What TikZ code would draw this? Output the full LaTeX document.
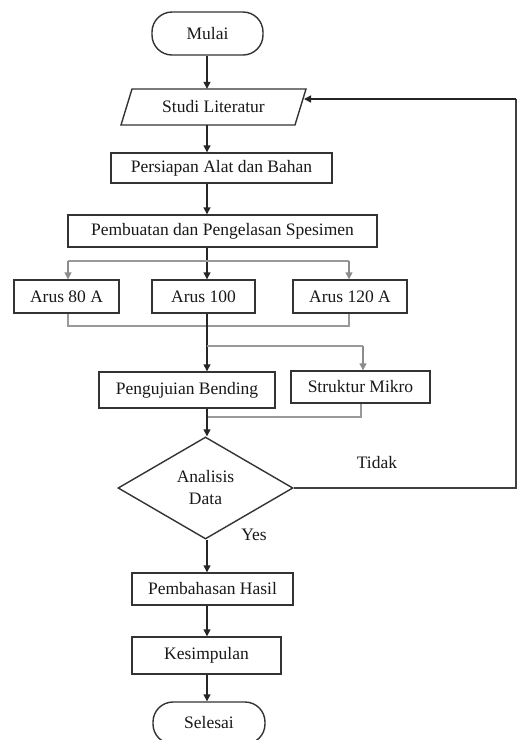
\documentclass[tikz,border=0pt]{standalone}
\usepackage{fontspec}
\setmainfont{Liberation Serif}
\usetikzlibrary{arrows.meta,shapes.geometric}
\begin{document}
\begin{tikzpicture}[x=1pt,y=-1pt,
  font=\fontsize{17.5}{22}\selectfont,
  box/.style={draw=black!80,line width=1.4pt,rectangle,inner sep=0pt,text=black!90},
  term/.style={box,rounded corners=20pt},
  arr/.style={line width=1.4pt,black!85,-{Triangle[width=7pt,length=7pt]}},
  garr/.style={line width=1.4pt,black!45,-{Triangle[width=7pt,length=7pt]}},
  gline/.style={line width=1.4pt,black!40},
  bline/.style={line width=1.4pt,black!75},
  lbl/.style={inner sep=0pt,text=black!90}]
\useasboundingbox (0,0) rectangle (517,740);
\fill[white] (0,0) rectangle (517,740);
% nodes
\node[term,minimum width=111pt,minimum height=43pt] (mulai) at (207.5,33.5) {Mulai};
\node[inner sep=0pt,minimum width=174pt,minimum height=36pt,text=black!90] (studi) at (213.5,107) {Studi Literatur};
\draw[draw=black!80,line width=1.4pt] (121,125) -- (132,89) -- (306,89) -- (295,125) -- cycle;
\node[box,minimum width=221pt,minimum height=30pt] (persiapan) at (221.5,168) {Persiapan Alat dan Bahan};
\node[box,minimum width=309pt,minimum height=32pt] (pembuatan) at (222.5,231) {Pembuatan dan Pengelasan Spesimen};
\node[box,minimum width=105pt,minimum height=33pt] (a80) at (66.5,296.5) {Arus 80 A};
\node[box,minimum width=103pt,minimum height=33pt] (a100) at (203.5,296.5) {Arus 100};
\node[box,minimum width=114pt,minimum height=33pt] (a120) at (350,296.5) {Arus 120 A};
\node[box,minimum width=176pt,minimum height=36pt] (bending) at (187,390) {Pengujuian Bending};
\node[box,minimum width=139pt,minimum height=32pt] (mikro) at (360.5,387) {Struktur Mikro};
\node[draw=black!80,line width=1.4pt,diamond,inner sep=0pt,minimum width=175pt,minimum height=102pt,text=black!90,align=center] (ana) at (205.5,488) {Analisis\\Data};
\node[box,minimum width=161pt,minimum height=32pt] (bahas) at (212.5,589) {Pembahasan Hasil};
\node[box,minimum width=149pt,minimum height=37pt] (simpul) at (206.5,655.5) {Kesimpulan};
\node[term,minimum width=112pt,minimum height=42pt] (selesai) at (209,723) {Selesai};
\node[lbl] (tidak) at (377,463) {Tidak};
\node[lbl] (yes) at (254,535) {Yes};
% spine and branch coordinates
\coordinate (sp) at (207,0);
\coordinate (lx) at (68,0);
\coordinate (rx) at (349,0);
\coordinate (mx) at (363,0);
\coordinate (mx2) at (361,0);
\coordinate (fx) at (516,0);
\coordinate (br1l) at (68,261);
\coordinate (br1r) at (349,261);
\coordinate (br2) at (207,346);
\coordinate (br2r) at (363,346);
\coordinate (m1l) at (68,326);
\coordinate (m1r) at (349,326);
\coordinate (m2) at (207,417);
\coordinate (m2r) at (361,417);
\coordinate (fbt) at (516,99);
\coordinate (fbe) at (304,99);
% connectors
\draw[arr] (sp |- mulai.south) -- (sp |- studi.north);
\draw[arr] (sp |- studi.south) -- (sp |- persiapan.north);
\draw[arr] (sp |- persiapan.south) -- (sp |- pembuatan.north);
\draw[arr] (sp |- pembuatan.south) -- (sp |- a100.north);
\draw[gline] (br1l) -- (br1r);
\draw[garr] (br1l) -- (lx |- a80.north);
\draw[garr] (br1r) -- (rx |- a120.north);
\draw[gline] (lx |- a80.south) -- (m1l) -- (m1r) -- (rx |- a120.south);
\draw[arr] (sp |- a100.south) -- (sp |- bending.north);
\draw[gline] (br2) -- (br2r);
\draw[garr] (br2r) -- (mx |- mikro.north);
\draw[gline] (mx2 |- mikro.south) -- (m2r) -- (m2);
\draw[arr] (sp |- bending.south) -- (sp |- ana.north);
\draw[arr] (sp |- ana.south) -- (sp |- bahas.north);
\draw[arr] (sp |- bahas.south) -- (sp |- simpul.north);
\draw[arr] (sp |- simpul.south) -- (sp |- selesai.north);
\draw[bline] (ana.east) -- (fx |- ana.east) -- (fbt);
\draw[arr] (fbt) -- (fbe);
\end{tikzpicture}
\end{document}
